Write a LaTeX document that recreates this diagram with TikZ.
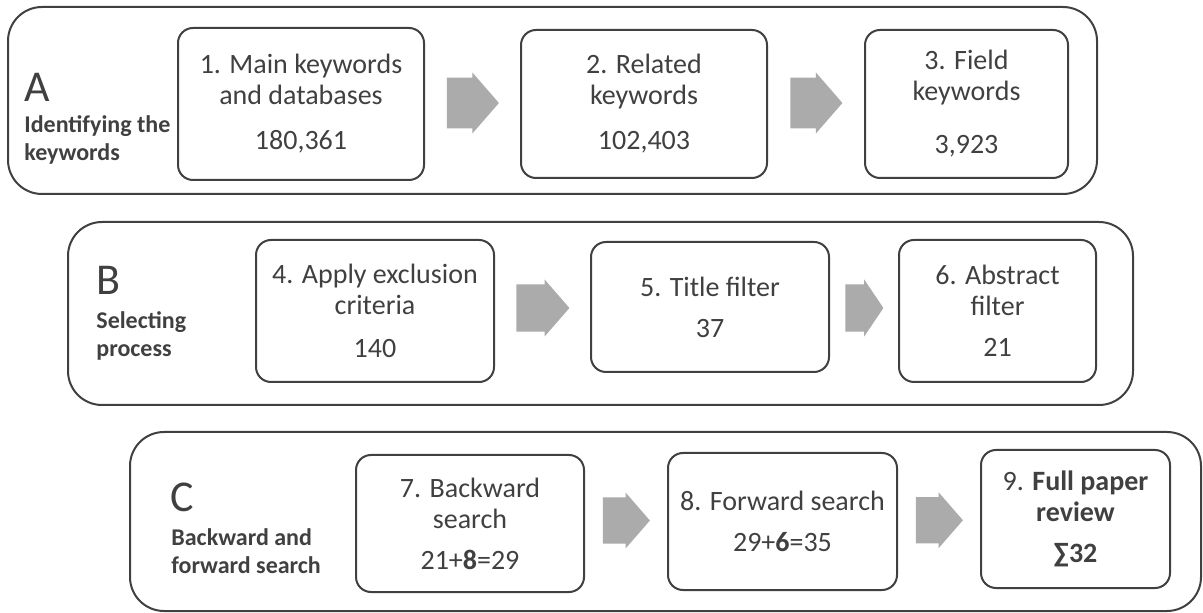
\documentclass[tikz,border=0pt]{standalone}
\usepackage{fontspec}
\setmainfont{Carlito}
\usetikzlibrary{calc}
\usetikzlibrary{shapes.arrows}

\definecolor{linegray}{HTML}{404040}
\definecolor{arrowgray}{HTML}{ABABAB}

\tikzset{
  frame/.style={draw=linegray, line width=1pt, rounded corners=17pt},
  stepbox/.style={draw=linegray, line width=1pt, rounded corners=7.5pt, align=center,
    text=linegray, inner sep=0pt, font=\fontsize{14}{15.5}\selectfont},
  blockarrow/.style={single arrow, fill=arrowgray, anchor=tail, inner sep=0pt, inner ysep=9.5pt,
    minimum width=30.5pt, minimum height=26pt, single arrow tip angle=98,
    single arrow head extend=2pt},
  letter/.style={anchor=west, inner sep=0pt, text=linegray, font=\fontsize{22}{26}\selectfont},
  stage/.style={anchor=west, inner sep=0pt, align=left, text=linegray,
    font=\bfseries\fontsize{12}{14}\selectfont},
}

\begin{document}
\begin{tikzpicture}[x=0.5pt,y=-0.5pt]
    \useasboundingbox (0,0) rectangle (1203,613);

    % A
    \draw[frame] (8,7) rectangle (1097,194);
    \node[letter] (la) at (24,87) {A};
    \node[stage] (sa) at (24,140) {Identifying the\\keywords};
    \node[stepbox, minimum width=123pt, minimum height=76pt] (s1) at (301,104)
        {1. Main keywords\\and databases\\[7pt]180,361};
    \node[stepbox, minimum width=123pt, minimum height=74pt] (s2) at (644,104)
        {2. Related\\keywords\\[7pt]102,403};
    \node[stepbox, minimum width=101.5pt, minimum height=74pt] (s3) at (966.5,104)
        {3. Field\\keywords\\[11pt]3,923};
    \node[blockarrow] (a12) at ($(s1.east)!0.5!(s2.west)+(-26,-1)$) {};
    \node[blockarrow] (a23) at ($(s2.east)!0.5!(s3.west)+(-26,-1)$) {};

    % B
    \draw[frame] (68,222) rectangle (1133,405);
    \node[letter] (lb) at (96,280) {B};
    \node[stage] (sb) at (96,336) {Selecting\\process};
    \node[stepbox, minimum width=119pt, minimum height=71pt] (s4) at (375,311)
        {4. Apply exclusion\\criteria\\[6pt]140};
    \node[stepbox, minimum width=119pt, minimum height=65pt] (s5) at (710,307)
        {5. Title filter\\[5pt]37};
    \node[stepbox, minimum width=98.5pt, minimum height=71pt] (s6) at (997.5,311)
        {6. Abstract\\filter\\[5pt]21};
    \node[blockarrow, minimum width=28.5pt, minimum height=26.5pt]
        (a45) at ($(s4.east)!0.5!(s5.west)+(-26.5,-1)$) {};
    \node[blockarrow, minimum width=28.5pt, minimum height=19pt, single arrow tip angle=112]
        (a56) at ($(s5.east)!0.5!(s6.west)+(-19,-1)$) {};

    % C
    \draw[frame] (130,432) rectangle (1201,611);
    \node[letter] (lc) at (170,497) {C};
    \node[stage] (sc) at (171,551) {Backward and\\forward search};
    \node[stepbox, minimum width=114pt, minimum height=68.5pt] (s7) at (470,523.5)
        {7. Backward\\search\\[5pt]21+\textbf{8}=29};
    \node[stepbox, minimum width=114.5pt, minimum height=68.5pt] (s8) at (782.5,521.5)
        {8. Forward search\\[5pt]29+\textbf{6}=35};
    \node[stepbox, minimum width=94.5pt, minimum height=69pt] (s9) at (1075.5,519)
        {9. \textbf{Full paper}\\\textbf{review}\\[5pt]\textbf{∑32}};
    \node[blockarrow, minimum width=28pt, minimum height=23.5pt]
        (a78) at ($(s7.east)!0.5!(s8.west)+(-23.5,-2)$) {};
    \node[blockarrow, minimum width=28pt, minimum height=23.5pt]
        (a89) at ($(s8.east)!0.5!(s9.west)+(-23.5,0)$) {};
\end{tikzpicture}
\end{document}
